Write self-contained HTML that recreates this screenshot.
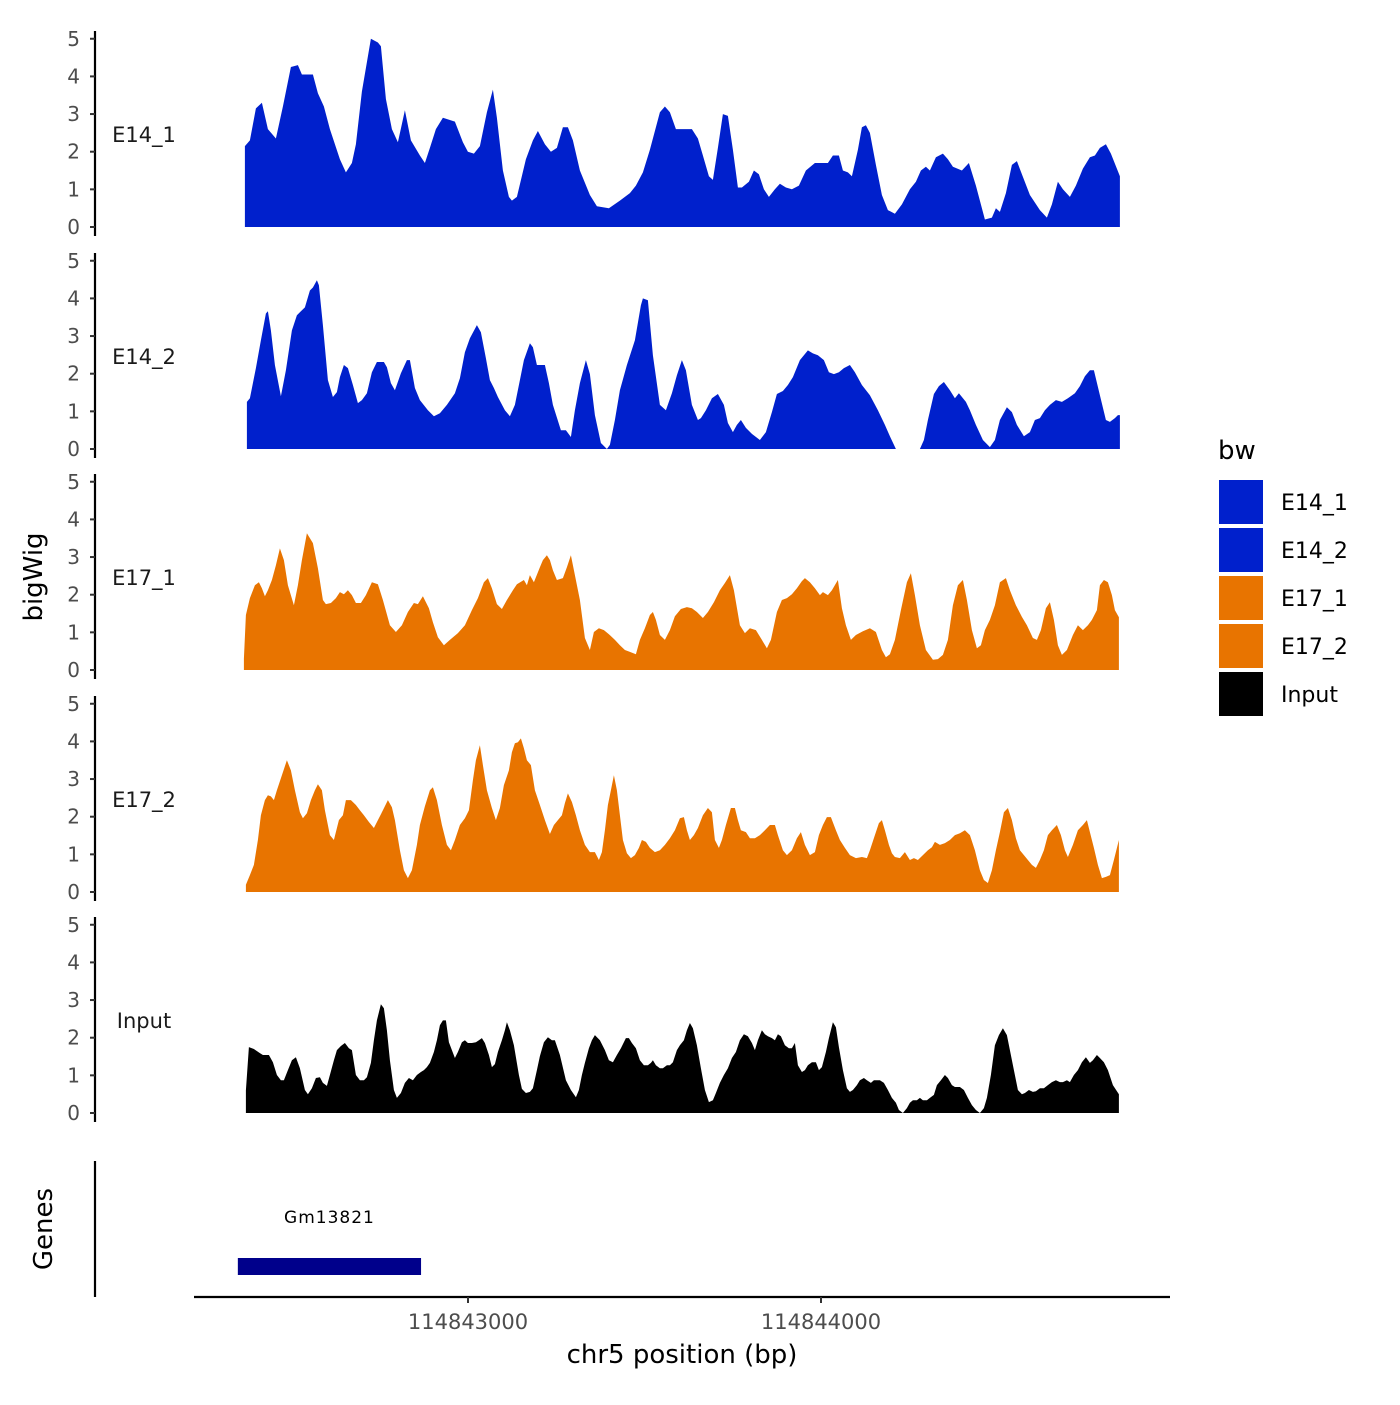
<!DOCTYPE html>
<html><head><meta charset="utf-8"><style>
html,body{margin:0;padding:0;background:#fff;}
svg text{font-family:"DejaVu Sans","Liberation Sans",sans-serif;}
</style></head><body>
<svg id="chart" xmlns="http://www.w3.org/2000/svg" width="1400" height="1400" viewBox="0 0 1400 1400">
<rect width="1400" height="1400" fill="#fff"/>
<g id="panels"></g>
<g id="genes"></g>
<g id="xaxis"></g>
<text x="42" y="577" transform="rotate(-90 42 577)" text-anchor="middle" font-size="26" fill="#000">bigWig</text>
<text x="52" y="1229" transform="rotate(-90 52 1229)" text-anchor="middle" font-size="26" fill="#000">Genes</text>
<text x="682" y="1363" text-anchor="middle" font-size="26" fill="#000">chr5 position (bp)</text>
<g id="legend"></g>
</svg>
<script>
// ----- data -----
const regionStart = 114842368;
const binSize = 2.833;
const trackNames = ["E14_1","E14_2","E17_1","E17_2","Input"];
const trackColors = ["#0020CC","#0020CC","#E87400","#E87400","#000000"];
const yTicks = [0,1,2,3,4,5];
const xTicks = [114843000,114844000];
const xTickLabels = ["114843000","114844000"];
const geneName = "Gm13821";
const geneStart = 114842348;
const geneEnd = 114842867;

const e14_1_bin = [0,5,11,17,23,31,38,46,53,57,68,73,79,85,95,101,107,111,117,126,133,136,141,147,153,160,166,175,180,185,191,198,210,218,223,229,235,242,248,252,258,264,267,272,281,288,293,300,306,312,318,323,328,335,345,352,364,375,385,391,398,405,415,420,425,431,437,447,453,458,464,468,473,478,483,488,493,497,504,509,514,519,524,530,535,541,547,554,561,570,583,588,594,598,603,607,613,617,621,625,631,637,643,650,657,665,671,676,681,685,691,698,703,708,717,724,731,740,747,751,755,761,767,772,777,785,795,802,807,813,818,825,831,838,845,850,855,861,866,875];
const e14_1_val = [2.15,2.3,3.15,3.3,2.6,2.35,3.2,4.25,4.3,4.05,4.05,3.55,3.2,2.6,1.8,1.45,1.7,2.2,3.6,5.0,4.9,4.8,3.4,2.6,2.25,3.1,2.3,1.9,1.7,2.1,2.6,2.9,2.8,2.25,2.0,1.95,2.15,3.05,3.65,2.9,1.5,0.8,0.7,0.8,1.8,2.3,2.55,2.2,2.0,2.1,2.65,2.65,2.3,1.5,0.85,0.55,0.5,0.7,0.9,1.1,1.45,2.05,3.05,3.2,3.05,2.6,2.6,2.6,2.35,1.9,1.35,1.25,2.1,3.0,2.95,2.05,1.05,1.05,1.2,1.5,1.4,1.0,0.8,1.0,1.15,1.05,1.0,1.1,1.5,1.7,1.7,1.9,1.9,1.5,1.45,1.35,2.05,2.65,2.7,2.5,1.65,0.85,0.45,0.35,0.6,1.0,1.2,1.5,1.6,1.5,1.85,1.95,1.8,1.6,1.5,1.7,1.1,0.2,0.25,0.5,0.4,0.9,1.65,1.75,1.4,0.85,0.45,0.25,0.6,1.2,1.0,0.8,1.1,1.55,1.85,1.9,2.1,2.2,1.95,1.35];

const e14_2_bin = [2,5,11,16,21,23,26,30,36,41,47,52,56,60,65,68,72,74,78,83,88,92,95,99,103,108,113,117,122,127,132,139,142,146,150,156,162,165,170,175,183,189,195,202,210,215,220,225,232,236,241,245,249,253,260,265,270,275,279,285,288,292,300,304,308,316,321,326,330,335,341,345,350,356,362,365,370,375,382,390,396,398,403,408,415,421,427,432,437,441,447,453,456,461,467,473,479,483,488,492,496,501,507,515,521,527,532,538,543,548,555,563,568,573,579,584,589,594,599,605,610,617,625,633,640,645,651,675,679,683,689,694,699,705,710,714,721,725,731,738,745,750,755,762,767,772,779,785,790,795,800,805,811,817,823,830,835,840,845,849,855,861,865,870,873,875];
const e14_2_val = [1.25,1.35,2.15,2.89,3.6,3.66,3.15,2.23,1.4,2.09,3.15,3.55,3.66,3.76,4.21,4.29,4.48,4.35,3.29,1.83,1.38,1.51,1.91,2.23,2.15,1.7,1.22,1.3,1.48,2.04,2.31,2.31,2.17,1.75,1.56,2.01,2.36,2.36,1.62,1.3,1.03,0.87,0.95,1.17,1.48,1.88,2.57,2.94,3.29,3.1,2.41,1.83,1.62,1.38,1.03,0.87,1.17,1.83,2.36,2.81,2.7,2.23,2.23,1.75,1.17,0.5,0.5,0.32,1.03,1.75,2.36,1.99,0.9,0.16,0,0.11,0.77,1.56,2.23,2.89,3.82,4.0,3.95,2.49,1.17,1.03,1.48,1.96,2.36,2.09,1.17,0.77,0.82,1.03,1.35,1.46,1.17,0.69,0.45,0.64,0.77,0.56,0.4,0.24,0.45,0.98,1.46,1.54,1.7,1.91,2.36,2.62,2.54,2.49,2.36,2.04,1.99,2.04,2.15,2.23,2.04,1.7,1.43,1.03,0.64,0.34,0,0,0.24,0.77,1.46,1.67,1.78,1.56,1.35,1.48,1.25,1.03,0.64,0.24,0.05,0.24,0.77,1.11,0.98,0.64,0.34,0.45,0.77,0.82,1.03,1.17,1.3,1.25,1.35,1.48,1.67,1.93,2.09,2.09,1.43,0.77,0.72,0.82,0.9,0.9];

const e17_1_bin = [-1,1,5,10,14,17,20,23,27,31,35,39,43,49,53,57,62,68,73,78,81,86,91,95,99,103,107,111,116,121,127,133,138,145,151,157,163,169,173,178,184,188,193,199,205,213,220,227,233,239,243,247,252,257,262,268,272,279,282,285,289,295,298,302,305,308,312,318,322,326,330,335,340,345,349,354,359,364,370,375,380,385,391,395,400,405,408,411,415,420,425,430,436,442,447,452,458,463,469,475,480,485,489,495,500,505,511,517,522,526,532,537,542,547,552,557,560,565,570,575,578,583,587,593,597,601,606,611,618,625,631,637,641,645,650,656,662,666,670,675,681,688,693,698,703,708,713,718,722,727,732,736,740,745,750,755,761,765,771,777,782,788,792,796,801,805,809,813,817,822,828,833,838,843,847,852,855,859,863,867,870,874];
const e17_1_val = [0.3,1.46,1.91,2.25,2.33,2.17,1.96,2.12,2.39,2.78,3.23,2.92,2.25,1.72,2.25,2.92,3.63,3.37,2.7,1.86,1.75,1.78,1.91,2.07,2.01,2.12,1.99,1.78,1.78,1.99,2.33,2.28,1.86,1.19,1.01,1.19,1.54,1.78,1.75,1.96,1.64,1.27,0.87,0.66,0.8,0.98,1.19,1.59,1.91,2.33,2.44,2.17,1.75,1.62,1.86,2.12,2.28,2.39,2.25,2.52,2.33,2.73,2.92,3.05,2.92,2.65,2.39,2.44,2.73,3.05,2.52,1.86,0.85,0.53,1.01,1.11,1.06,0.95,0.8,0.66,0.53,0.48,0.42,0.8,1.11,1.46,1.54,1.33,0.93,0.8,1.06,1.43,1.62,1.67,1.64,1.54,1.38,1.54,1.8,2.12,2.31,2.52,2.12,1.19,0.98,1.11,1.06,0.8,0.58,0.8,1.54,1.86,1.91,2.01,2.17,2.36,2.44,2.33,2.17,1.99,2.07,1.99,2.12,2.39,1.64,1.19,0.8,0.93,1.03,1.11,1.01,0.53,0.34,0.42,0.8,1.59,2.33,2.57,1.99,1.19,0.53,0.27,0.29,0.4,0.8,1.72,2.25,2.39,1.86,1.06,0.58,0.66,1.06,1.33,1.72,2.33,2.44,2.12,1.72,1.41,1.19,0.85,0.8,1.06,1.64,1.8,1.33,0.66,0.4,0.53,0.93,1.19,1.06,1.19,1.33,1.59,2.25,2.39,2.33,1.99,1.59,1.4];

const e17_2_bin = [1,5,9,13,16,20,23,26,29,32,37,42,46,50,55,58,62,66,70,73,77,80,85,89,94,98,101,106,111,115,119,124,129,133,138,143,147,150,155,159,163,167,172,175,180,185,188,192,197,202,206,210,215,220,224,228,231,235,238,242,247,251,255,259,264,267,270,273,276,279,282,286,290,295,300,305,309,313,317,320,323,327,331,335,340,345,350,354,357,360,363,366,369,372,375,378,382,386,390,394,397,401,405,410,415,420,425,430,435,439,442,445,449,453,458,463,467,470,474,477,481,486,490,493,496,501,505,510,515,520,525,530,533,538,542,547,552,556,560,565,570,574,578,582,586,591,595,600,605,611,617,622,625,630,634,637,640,644,647,650,655,660,665,669,673,678,683,687,690,695,700,705,710,715,720,725,730,735,739,743,747,751,755,759,763,767,771,775,779,783,787,791,795,799,803,807,812,816,820,823,828,833,838,842,845,849,853,857,861,865,869,874];
const e17_2_val = [0.19,0.45,0.72,1.38,2.04,2.44,2.57,2.54,2.44,2.7,3.1,3.5,3.23,2.7,2.12,1.96,2.09,2.44,2.7,2.86,2.7,2.17,1.51,1.38,1.91,2.04,2.44,2.44,2.31,2.17,2.04,1.86,1.7,1.91,2.17,2.44,2.25,1.91,1.11,0.58,0.37,0.58,1.25,1.78,2.28,2.7,2.78,2.44,1.78,1.25,1.11,1.38,1.78,1.96,2.17,2.97,3.5,3.9,3.37,2.7,2.23,1.91,2.23,2.84,3.23,3.71,3.95,3.98,4.08,3.82,3.5,3.37,2.7,2.31,1.91,1.54,1.78,1.91,2.04,2.36,2.62,2.39,2.04,1.64,1.25,1.06,1.06,0.85,1.06,1.64,2.31,2.7,3.1,2.7,2.04,1.38,1.03,0.9,0.98,1.17,1.38,1.33,1.17,1.06,1.11,1.25,1.43,1.64,1.96,1.99,1.64,1.38,1.51,1.7,2.04,2.23,2.12,1.38,1.17,1.38,1.78,2.23,2.23,1.91,1.64,1.59,1.43,1.43,1.51,1.64,1.78,1.78,1.51,1.11,0.98,1.11,1.43,1.59,1.25,0.98,1.06,1.51,1.78,1.99,1.99,1.64,1.38,1.17,0.98,0.9,0.93,0.9,1.11,1.51,1.83,1.91,1.64,1.25,1.03,0.93,0.9,1.06,0.85,0.9,0.85,0.98,1.11,1.19,1.33,1.25,1.3,1.38,1.51,1.56,1.64,1.51,1.11,0.58,0.32,0.24,0.58,1.11,1.59,2.12,2.23,1.91,1.43,1.11,0.98,0.85,0.72,0.64,0.85,1.11,1.51,1.64,1.78,1.51,1.11,0.93,1.25,1.64,1.78,1.91,1.59,1.17,0.72,0.37,0.4,0.45,0.85,1.38];

const input_bin = [1,4,9,15,18,24,28,32,36,39,43,47,51,55,60,63,67,71,75,78,82,85,89,92,96,100,104,107,111,115,119,122,126,129,132,136,139,142,145,149,152,156,160,164,168,172,176,179,182,185,189,192,195,198,201,204,207,210,213,217,220,223,227,231,234,237,240,244,247,250,253,257,260,262,265,269,274,277,281,285,288,292,295,299,303,307,310,315,321,326,331,334,337,340,344,347,350,355,360,364,368,372,376,381,384,387,391,395,399,403,406,408,411,415,418,422,425,428,432,435,439,442,445,448,452,456,460,464,468,471,475,479,483,487,491,495,499,503,507,510,513,517,520,523,527,530,533,536,540,544,547,550,553,557,560,563,567,571,574,577,581,584,588,591,594,598,602,605,608,612,615,619,622,626,629,632,635,639,643,647,651,654,658,662,665,668,672,675,678,682,685,689,692,696,700,703,707,710,715,719,723,727,731,735,739,742,746,750,754,758,762,765,769,773,777,780,784,788,791,795,799,803,807,811,815,818,822,825,829,833,837,841,845,848,852,855,859,863,868,874];
const input_val = [0.6,1.75,1.7,1.59,1.54,1.54,1.35,1.01,0.87,0.87,1.14,1.4,1.48,1.19,0.61,0.5,0.66,0.93,0.95,0.8,0.72,1.01,1.4,1.67,1.78,1.86,1.72,1.67,1.01,0.87,0.87,0.95,1.33,1.93,2.46,2.89,2.78,2.2,1.4,0.61,0.4,0.53,0.8,0.93,0.87,1.01,1.09,1.14,1.22,1.33,1.62,1.93,2.33,2.46,2.46,1.88,1.67,1.46,1.62,1.88,1.93,1.86,1.86,1.88,1.93,1.99,1.86,1.54,1.22,1.3,1.62,1.93,2.2,2.41,2.2,1.8,1.01,0.64,0.53,0.56,0.66,1.14,1.51,1.88,2.01,1.93,1.93,1.54,0.87,0.61,0.42,0.61,1.01,1.33,1.72,1.93,2.07,1.93,1.67,1.4,1.35,1.54,1.72,1.99,1.99,1.86,1.72,1.4,1.27,1.27,1.33,1.4,1.27,1.19,1.19,1.27,1.27,1.35,1.67,1.8,1.93,2.2,2.39,2.25,1.8,1.19,0.61,0.29,0.34,0.53,0.8,1.01,1.19,1.46,1.62,1.93,2.09,2.04,1.86,1.67,1.93,2.2,2.09,2.04,1.99,1.93,2.09,2.04,1.8,1.72,1.72,1.86,1.27,1.09,1.14,1.27,1.35,1.35,1.14,1.22,1.62,1.99,2.41,2.28,1.75,1.14,0.66,0.56,0.61,0.74,0.87,0.93,0.87,0.8,0.87,0.87,0.87,0.8,0.61,0.4,0.27,0.08,0,0.13,0.27,0.34,0.34,0.4,0.34,0.34,0.4,0.48,0.74,0.87,1.01,0.93,0.74,0.69,0.69,0.61,0.4,0.21,0.08,0,0.13,0.4,1.01,1.8,2.07,2.25,2.07,1.67,1.14,0.61,0.5,0.53,0.61,0.56,0.58,0.66,0.66,0.74,0.82,0.87,0.82,0.82,0.87,0.82,1.01,1.14,1.35,1.48,1.33,1.4,1.54,1.46,1.35,1.14,0.74,0.5];

const trackBins = [e14_1_bin,e14_2_bin,e17_1_bin,e17_2_bin,input_bin];
const trackVals = [e14_1_val,e14_2_val,e17_1_val,e17_2_val,input_val];

// ----- layout / scales -----
const NS = "http://www.w3.org/2000/svg";
const panelZero = [227,449,670,892,1113];
const pxPerUnit = 37.65;
function xScale(bp){ return 468 + (bp - 114843000) * 0.353; }
function binToBp(b){ return regionStart + b * binSize; }
function yScale(panel, v){ return panelZero[panel] - v * pxPerUnit; }
function mk(tag, attrs, parent){
  const el = document.createElementNS(NS, tag);
  for (const k in attrs) el.setAttribute(k, attrs[k]);
  parent.appendChild(el);
  return el;
}

const panelsG = document.getElementById('panels');
trackNames.forEach((name, p) => {
  const g = mk('g', {}, panelsG);
  
  
  const z = panelZero[p];
  const ax = mk('line', {x1:95, x2:95, y1:z-196, y2:z+9, stroke:'#000', 'stroke-width':2.2}, g);
  
  
  yTicks.forEach(t => {
    const y = yScale(p, t);
    const tk = mk('line', {x1:90, x2:95, y1:y, y2:y, stroke:'#333', 'stroke-width':2}, g);
    
    
    const tl = mk('text', {x:80, y:y+7, 'text-anchor':'end', 'font-size':20, fill:'#4d4d4d'}, g);
    tl.textContent = String(t);
    
    
  });
  const bins = trackBins[p], vals = trackVals[p];
  const n = Math.min(bins.length, vals.length);
  let d = 'M' + xScale(binToBp(bins[0])).toFixed(1) + ',' + z;
  for (let i = 0; i < n; i++) {
    d += ' L' + xScale(binToBp(bins[i])).toFixed(1) + ',' + yScale(p, vals[i]).toFixed(1);
  }
  d += ' L' + xScale(binToBp(bins[n-1])).toFixed(1) + ',' + z + ' Z';
  const area = mk('path', {d:d, fill:trackColors[p]}, g);
  
  
  const lbl = mk('text', {x:144, y:z-85, 'text-anchor':'middle', 'font-size':21, fill:'#1a1a1a'}, g);
  lbl.textContent = name;
  
  
});

// genes
const genesG = document.getElementById('genes');
const gAx = mk('line', {x1:95, x2:95, y1:1161, y2:1297, stroke:'#000', 'stroke-width':2.2}, genesG);


const gx1 = xScale(geneStart), gx2 = xScale(geneEnd);
const gene = mk('rect', {x:gx1, y:1258, width:gx2-gx1, height:17, fill:'#00008B'}, genesG);


const gl = mk('text', {x:(gx1+gx2)/2, y:1223, 'text-anchor':'middle', 'font-size':17, 'letter-spacing':'1', fill:'#000'}, genesG);
gl.textContent = geneName;



// x axis
const xG = document.getElementById('xaxis');
const xl = mk('line', {x1:194, x2:1170, y1:1297, y2:1297, stroke:'#000', 'stroke-width':2.2}, xG);


xTicks.forEach((t, i) => {
  const x = xScale(t);
  const tk = mk('line', {x1:x, x2:x, y1:1297, y2:1303, stroke:'#333', 'stroke-width':2}, xG);
  
  
  const tl = mk('text', {x:x, y:1329, 'text-anchor':'middle', 'font-size':21, fill:'#4d4d4d'}, xG);
  tl.textContent = xTickLabels[i];
  
  
});

// legend
const legG = document.getElementById('legend');
const lt = mk('text', {x:1218, y:459, 'font-size':26, fill:'#000'}, legG);
lt.textContent = 'bw';


trackNames.forEach((name, i) => {
  const y = 480 + i * 48;
  const e = mk('g', {}, legG);
  
  
  const k = mk('rect', {x:1219, y:y, width:44, height:44, fill:trackColors[i]}, e);
  
  
  const t = mk('text', {x:1281, y:y+30, 'font-size':22, fill:'#000'}, e);
  t.textContent = name;
  
  
});
</script>
</body></html>
